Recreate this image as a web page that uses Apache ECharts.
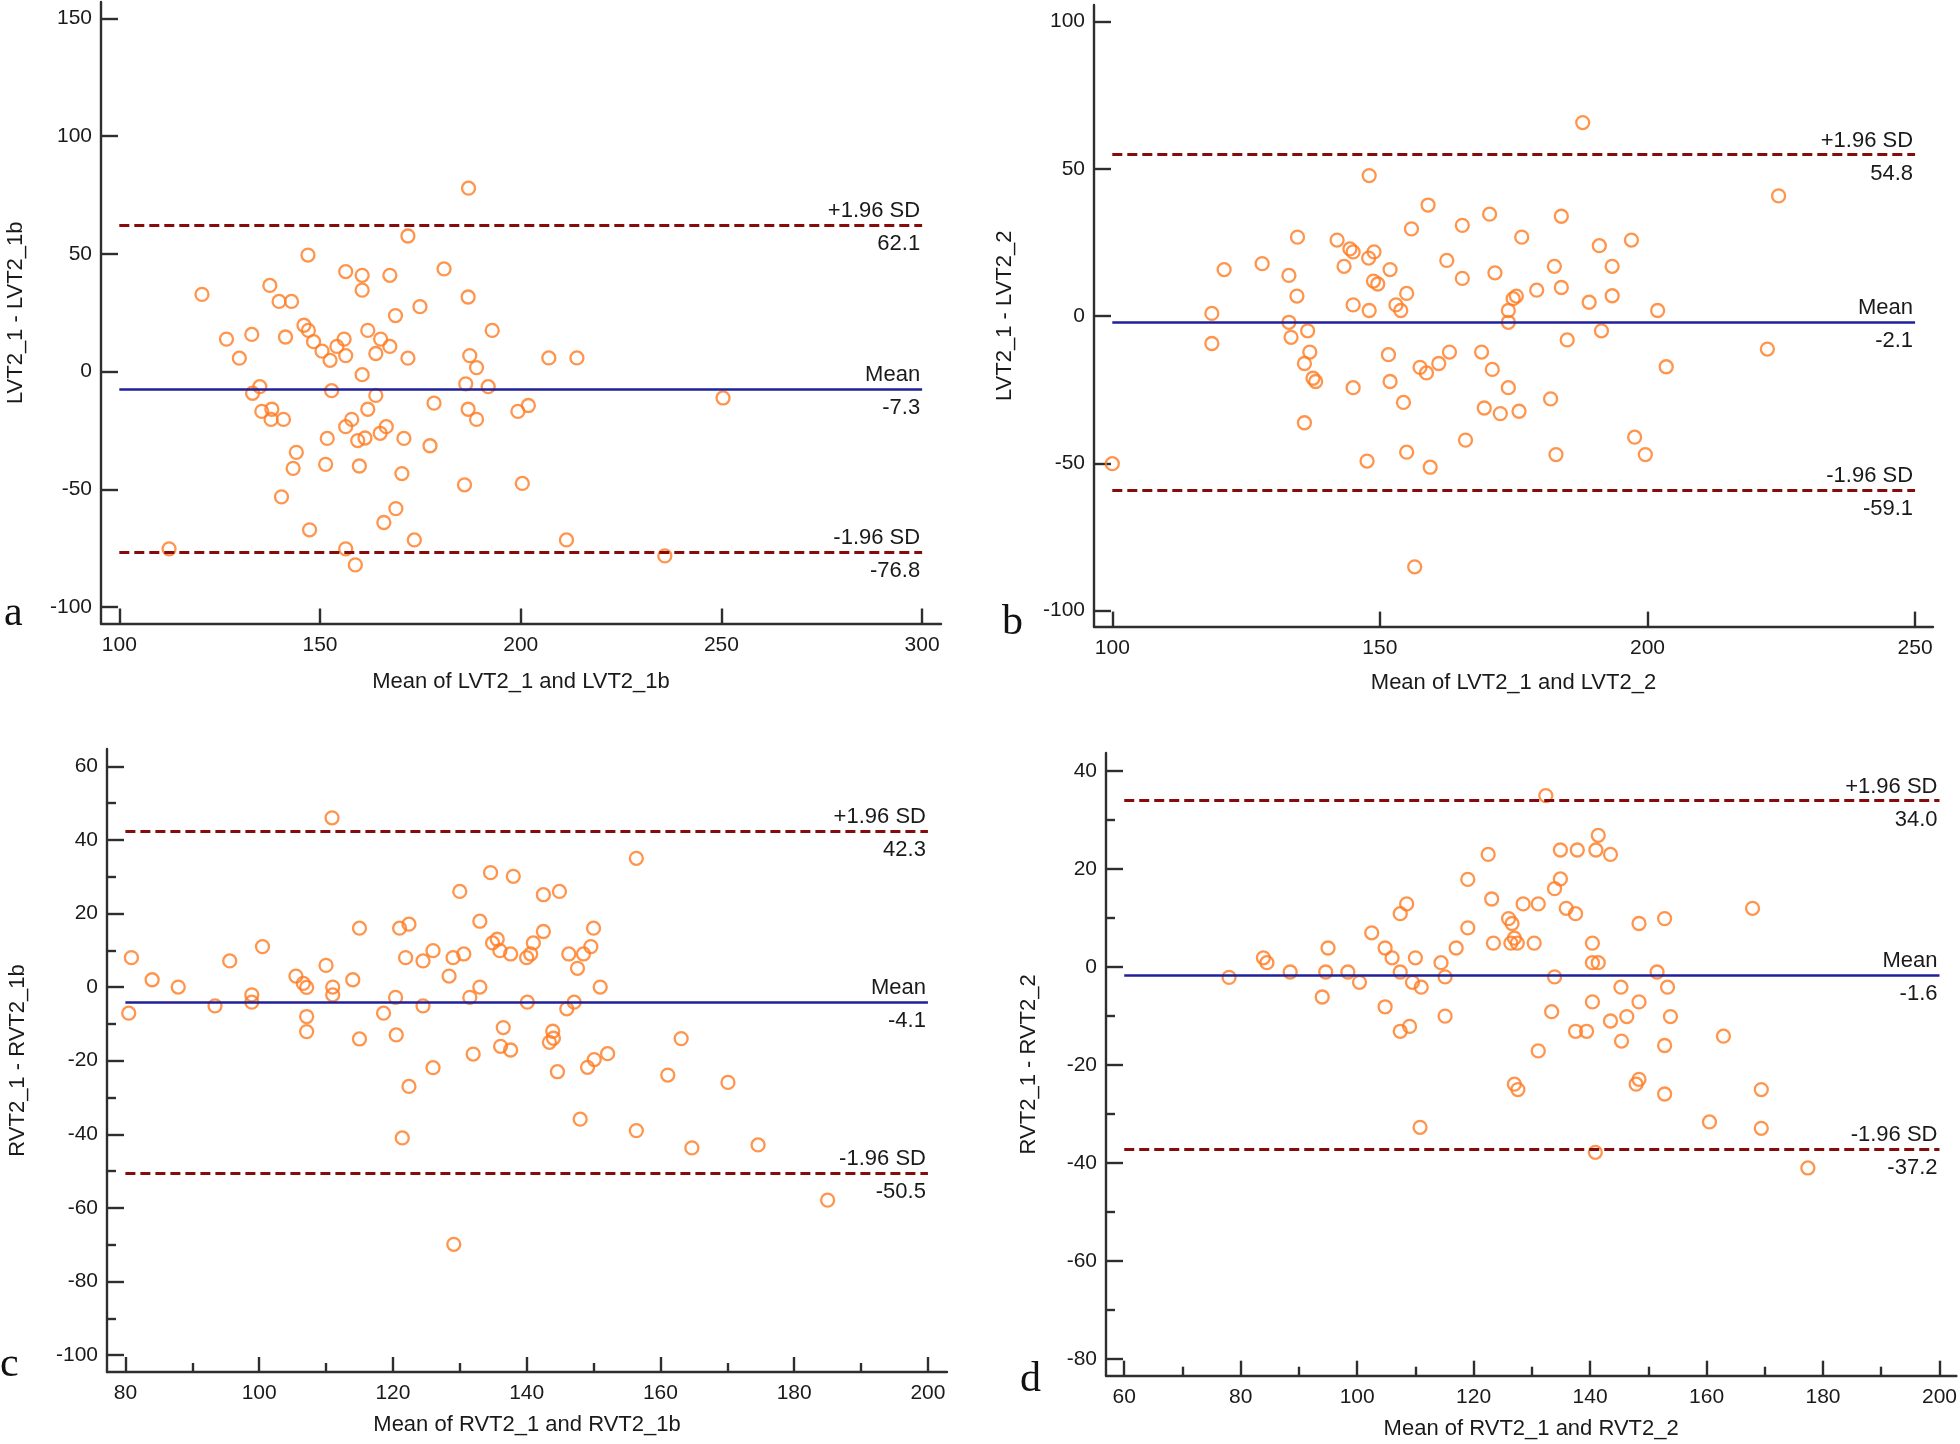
<!DOCTYPE html>
<html>
<head>
<meta charset="utf-8">
<script src="https://cdn.jsdelivr.net/npm/echarts@6/dist/echarts.min.js"></script>
<style>
html,body{margin:0;padding:0;background:#ffffff;}
#chart{width:1960px;height:1444px;}
</style>
</head>
<body>
<div id="chart"></div>
<script>
// ---------------- DATA ----------------
// Panel a: LVT2_1 vs LVT2_1b
const aMeans = [187.0,171.9,147.0,156.4,160.5,167.4,180.9,160.5,137.5,120.6,139.8,142.9,186.9,174.9,168.8,146.0,147.1,192.9,161.9,126.7,133.0,141.4,148.4,156.0,165.1,154.2,167.4,150.5,156.4,163.9,152.5,129.9,171.9,187.3,189.0,207.0,214.0,160.5,186.3,191.9,135.0,133.2,152.9,163.9,178.4,135.5,138.0,137.8,140.9,161.9,186.9,189.0,199.3,201.9,157.9,156.4,165.0,166.5,151.8,159.4,161.2,170.9,177.4,144.1,143.3,151.4,159.8,170.4,186.0,200.4,140.4,168.9,165.9,147.4,173.5,211.4,112.4,156.4,158.8,250.4,235.9];
const aDiffs = [77.9,57.6,49.5,42.5,40.9,40.9,43.6,34.6,36.6,32.8,29.8,29.8,31.7,27.6,23.8,19.7,17.5,17.5,17.5,13.8,15.8,14.7,12.7,13.8,13.8,10.7,10.7,8.7,6.8,7.7,4.8,5.7,5.7,6.8,1.7,5.8,5.8,-1.3,-5.2,-6.4,-6.4,-9.2,-8.1,-10.1,-13.4,-16.9,-16.0,-20.3,-20.3,-16.0,-16.0,-20.3,-16.9,-14.4,-20.3,-23.4,-26.2,-23.4,-28.4,-29.3,-28.2,-28.4,-31.5,-34.3,-41.1,-39.4,-40.1,-43.3,-48.1,-47.5,-53.2,-58.2,-64.1,-67.2,-71.5,-71.5,-75.3,-75.3,-82.1,-11.2,-78.3];
const aLimits = [62.1, -7.3, -76.8];          // +1.96 SD, mean, -1.96 SD
const aLineX = [100, 300];
const aXTicks = [100,150,200,250,300];
const aYTicks = [-100,-50,0,50,100,150];

// Panel b: LVT2_1 vs LVT2_2
const bMeans = [148.0,159.0,170.5,155.9,165.4,134.6,142.0,176.5,144.4,145.0,148.9,147.9,162.5,128.0,143.3,120.9,151.9,133.0,165.4,171.5,148.8,149.6,134.5,155.0,179.3,145.0,153.0,153.9,148.0,118.6,174.0,174.9,175.5,174.0,133.0,133.4,136.5,118.6,136.9,135.9,137.5,138.0,145.0,151.6,151.9,154.4,157.5,158.7,161.0,163.0,169.0,171.0,174.0,169.5,172.5,176.0,135.9,166.0,147.6,155.0,159.4,100.0,156.5,187.9,224.5,183.9,191.0,197.0,182.6,193.4,183.9,189.1,193.4,201.9,191.4,185.0,222.4,203.5,181.9,197.6,199.6,182.9];
const bDiffs = [47.7,37.7,34.6,29.6,30.8,26.8,25.8,26.8,22.8,21.8,21.8,19.7,18.9,17.8,16.9,15.8,15.8,13.8,12.8,14.7,11.9,10.9,6.8,7.7,8.8,3.8,3.8,1.9,1.9,0.9,1.9,5.9,6.8,-2.1,-2.1,-7.2,-5.0,-9.3,-12.2,-16.1,-21.1,-22.2,-24.3,-13.1,-22.2,-29.3,-17.4,-19.3,-16.1,-12.2,-12.2,-18.1,-24.3,-31.2,-33.1,-32.3,-36.2,-42.1,-49.2,-46.2,-51.3,-50.1,-85.1,65.7,40.8,33.9,23.9,25.8,16.9,16.9,9.7,4.7,6.9,1.9,-5.0,-8.1,-11.2,-17.2,-28.1,-41.1,-47.0,-47.0];
const bLimits = [54.8, -2.1, -59.1];
const bLineX = [100, 250];
const bXTicks = [100,150,200,250];
const bYTicks = [-100,-50,0,50,100];

// Panel c: RVT2_1 vs RVT2_1b
const cMeans = [110.9,134.6,138.0,130.0,142.5,144.9,133.0,115.0,121.0,122.4,142.5,100.5,134.9,135.6,141.0,136.0,137.6,140.6,140.0,80.9,95.6,110.0,121.9,124.5,126.0,129.0,130.6,146.3,84.0,105.5,106.6,107.1,111.0,111.0,114.0,128.4,87.9,98.9,98.9,93.4,120.4,131.5,133.0,124.5,140.1,80.5,118.6,146.0,107.1,107.1,115.0,120.5,136.5,136.1,137.6,143.9,144.0,143.4,132.0,144.6,126.0,122.4,121.4,129.1,156.4,150.0,149.6,148.5,147.6,151.0,147.1,163.1,150.1,152.1,149.1,161.1,170.1,148.0,156.4,164.7,174.6,185.0];
const cDiffs = [46.0,31.1,30.1,26.0,25.1,26.0,17.9,16.0,16.0,17.1,15.1,11.0,12.0,13.0,12.0,9.9,9.0,9.0,8.0,8.0,7.1,5.9,8.0,7.1,9.9,8.0,9.0,9.0,2.0,3.0,1.0,-0.1,0.0,-2.1,2.0,3.0,0.0,-2.1,-4.1,-5.1,-2.8,-2.8,0.0,-5.1,-4.1,-7.1,-7.1,-5.9,-8.0,-12.1,-14.1,-13.0,-11.0,-16.1,-17.1,-12.0,-13.9,-15.0,-18.2,-23.0,-21.9,-27.0,-41.0,-69.9,35.0,16.0,11.0,9.0,5.1,0.0,-4.1,-14.0,-19.7,-18.1,-21.8,-23.9,-25.9,-35.9,-39.0,-43.7,-42.9,-57.9];
const cLimits = [42.3, -4.1, -50.5];
const cLineX = [80, 200];
const cXTicks = [80,100,120,140,160,180,200];
const cXMinor = [90,110,130,150,170,190];
const cYTicks = [-100,-80,-60,-40,-20,0,20,40,60];
const cYMinor = [-90,-70,-50,-30,-10,10,30,50];

// Panel d: RVT2_1 vs RVT2_2
const dMeans = [78.0,83.9,84.5,88.5,94.0,94.6,95.0,98.4,100.4,102.5,104.8,104.8,106.0,107.4,107.4,108.5,107.4,109.0,109.5,110.0,111.0,110.8,114.4,115.1,115.1,117.0,119.0,119.0,122.5,123.1,123.4,126.0,126.6,126.4,127.0,127.5,128.5,130.4,131.1,131.1,127.0,127.6,132.4,141.4,134.9,137.8,141.0,143.5,134.9,133.9,135.9,137.5,148.4,152.8,167.9,140.4,140.4,141.4,133.9,151.5,145.3,153.3,140.4,148.4,133.4,146.3,153.8,143.5,137.5,139.4,145.4,152.8,162.9,147.9,148.4,152.8,169.4,160.5,169.4,140.9,177.4];
const dDiffs = [-2.1,1.9,0.9,-1.0,-6.1,-1.0,3.9,-1.0,-3.1,7.0,3.9,-8.1,1.9,-1.0,10.9,12.9,-13.1,-12.1,-3.1,1.9,-4.1,-32.7,0.9,-2.0,-10.0,3.9,8.0,17.9,23.0,13.9,4.9,9.9,8.9,4.9,5.9,4.9,12.9,4.9,12.9,-17.1,-23.9,-25.0,35.0,26.9,23.9,23.9,23.9,23.0,18.0,16.0,12.0,10.9,8.9,9.9,12.0,4.9,0.9,0.9,-2.0,-1.0,-4.1,-4.1,-7.1,-7.1,-9.1,-10.1,-10.1,-11.0,-13.1,-13.1,-15.1,-16.0,-14.1,-23.9,-22.9,-25.9,-25.0,-31.6,-32.9,-37.8,-41.0];
const dLimits = [34.0, -1.6, -37.2];
const dLineX = [60, 200];
const dXTicks = [60,80,100,120,140,160,180,200];
const dXMinor = [70,90,110,130,150,170,190];
const dYTicks = [-80,-60,-40,-20,0,20,40];
const dYMinor = [-70,-50,-30,-10,10,30];

const limitNames = ['+1.96 SD', 'Mean', '-1.96 SD'];

const panels = [
  {means:aMeans, diffs:aDiffs, limits:aLimits, lineX:aLineX, xTicks:aXTicks, yTicks:aYTicks,
   xName:'Mean of LVT2_1 and LVT2_1b', yName:'LVT2_1 - LVT2_1b', letter:'a'},
  {means:bMeans, diffs:bDiffs, limits:bLimits, lineX:bLineX, xTicks:bXTicks, yTicks:bYTicks,
   xName:'Mean of LVT2_1 and LVT2_2', yName:'LVT2_1 - LVT2_2', letter:'b'},
  {means:cMeans, diffs:cDiffs, limits:cLimits, lineX:cLineX, xTicks:cXTicks, yTicks:cYTicks, xMinor:cXMinor, yMinor:cYMinor,
   xName:'Mean of RVT2_1 and RVT2_1b', yName:'RVT2_1 - RVT2_1b', letter:'c'},
  {means:dMeans, diffs:dDiffs, limits:dLimits, lineX:dLineX, xTicks:dXTicks, yTicks:dYTicks, xMinor:dXMinor, yMinor:dYMinor,
   xName:'Mean of RVT2_1 and RVT2_2', yName:'RVT2_1 - RVT2_2', letter:'d'}
];

// ---------------- LAYOUT / STYLE ----------------
const FONT = "'Liberation Sans', Arial, sans-serif";
const SERIF = "'Liberation Serif', 'Times New Roman', serif";
const TXT = '#1a1a1a';
const AXIS = {color:'#2e2e2e', width:2.4};

const layouts = [
  {grid:{left:101, top:2, width:840, height:621.5},  xr:[95.44,304.7], yr:[-107.0,157.0], xGap:47, yGap:74, letterPos:{left:4, top:593}},
  {grid:{left:1094, top:5, width:839, height:621.6}, xr:[96.58,253.35], yr:[-105.4,105.6], xGap:45, yGap:78, letterPos:{left:1002, top:602}},
  {grid:{left:107, top:749, width:840, height:623},  xr:[77.25,202.85], yr:[-104.6,64.7], xGap:42, yGap:78, letterPos:{left:0, top:1344}},
  {grid:{left:1106, top:753, width:852, height:622.7}, xr:[56.87,202.9], yr:[-83.4,43.7], xGap:42, yGap:66, letterPos:{left:1020, top:1359}}
];

const grids = [], xAxes = [], yAxes = [], series = [], titles = [];

function lineItems(p) {
  const items = [];
  p.limits.forEach((v, k) => {
    const ls = k === 1
      ? {color:'#20209a', width:2.6, type:'solid'}
      : {color:'#860b0b', width:3, type:[10,5]};
    const labBase = {show:true, color:TXT, fontFamily:FONT, fontSize:22};
    items.push([
      {coord:[p.lineX[0], v], lineStyle:ls,
       label:Object.assign({}, labBase, {position:'insideEndTop', formatter:limitNames[k], distance:[2,3]})},
      {coord:[p.lineX[1], v]}
    ]);
    items.push([
      {coord:[p.lineX[0], v], lineStyle:{color:'rgba(0,0,0,0)', width:1},
       label:Object.assign({}, labBase, {position:'insideEndBottom', formatter:v.toFixed(1), distance:[2,8]})},
      {coord:[p.lineX[1], v]}
    ]);
  });
  return items;
}

panels.forEach((p, gi) => {
  const L = layouts[gi];
  grids.push(Object.assign({containLabel:false}, L.grid));
  const xi = xAxes.length, yi = yAxes.length;
  xAxes.push({
    gridIndex:gi, type:'value', min:L.xr[0], max:L.xr[1],
    name:p.xName, nameLocation:'middle', nameGap:L.xGap,
    nameTextStyle:{fontFamily:FONT, fontSize:22, color:TXT},
    axisLine:{show:true, onZero:false, lineStyle:AXIS},
    axisTick:{show:true, inside:true, length:15, customValues:p.xTicks, lineStyle:AXIS},
    axisLabel:{show:true, customValues:p.xTicks, margin:11, fontFamily:FONT, fontSize:21, color:TXT},
    splitLine:{show:false}
  });
  yAxes.push({
    gridIndex:gi, type:'value', min:L.yr[0], max:L.yr[1],
    name:p.yName, nameLocation:'middle', nameGap:L.yGap,
    nameTextStyle:{fontFamily:FONT, fontSize:22, color:TXT},
    axisLine:{show:true, onZero:false, lineStyle:AXIS},
    axisTick:{show:true, inside:true, length:17, customValues:p.yTicks, lineStyle:AXIS},
    axisLabel:{show:true, customValues:p.yTicks, margin:9, fontFamily:FONT, fontSize:21, color:TXT},
    splitLine:{show:false}
  });
  if (p.xMinor) {
    xAxes.push({
      gridIndex:gi, type:'value', min:L.xr[0], max:L.xr[1], position:'bottom',
      axisLine:{show:false, onZero:false},
      axisTick:{show:true, inside:true, length:9, customValues:p.xMinor, lineStyle:AXIS},
      axisLabel:{show:false}, splitLine:{show:false}
    });
  }
  if (p.yMinor) {
    yAxes.push({
      gridIndex:gi, type:'value', min:L.yr[0], max:L.yr[1], position:'left',
      axisLine:{show:false, onZero:false},
      axisTick:{show:true, inside:true, length:9, customValues:p.yMinor, lineStyle:AXIS},
      axisLabel:{show:false}, splitLine:{show:false}
    });
  }
  series.push({
    type:'scatter', xAxisIndex:xi, yAxisIndex:yi,
    data:p.means.map((m, i) => [m, p.diffs[i]]),
    symbol:'circle', symbolSize:13,
    itemStyle:{color:'rgba(255,255,255,0)', borderColor:'#ff7a20', borderWidth:2.3},
    emphasis:{disabled:true},
    markLine:{silent:true, symbol:'none', animation:false, data:lineItems(p)},
    z:3
  });
  titles.push({
    text:p.letter, left:L.letterPos.left, top:L.letterPos.top, padding:0,
    textStyle:{fontFamily:SERIF, fontSize:42, fontWeight:'normal', color:'#111'}
  });
});

const chart = echarts.init(document.getElementById('chart'), null, {renderer:'canvas'});
chart.setOption({
  backgroundColor:'#ffffff',
  animation:false,
  title:titles,
  grid:grids,
  xAxis:xAxes,
  yAxis:yAxes,
  series:series
});
</script>
</body>
</html>
